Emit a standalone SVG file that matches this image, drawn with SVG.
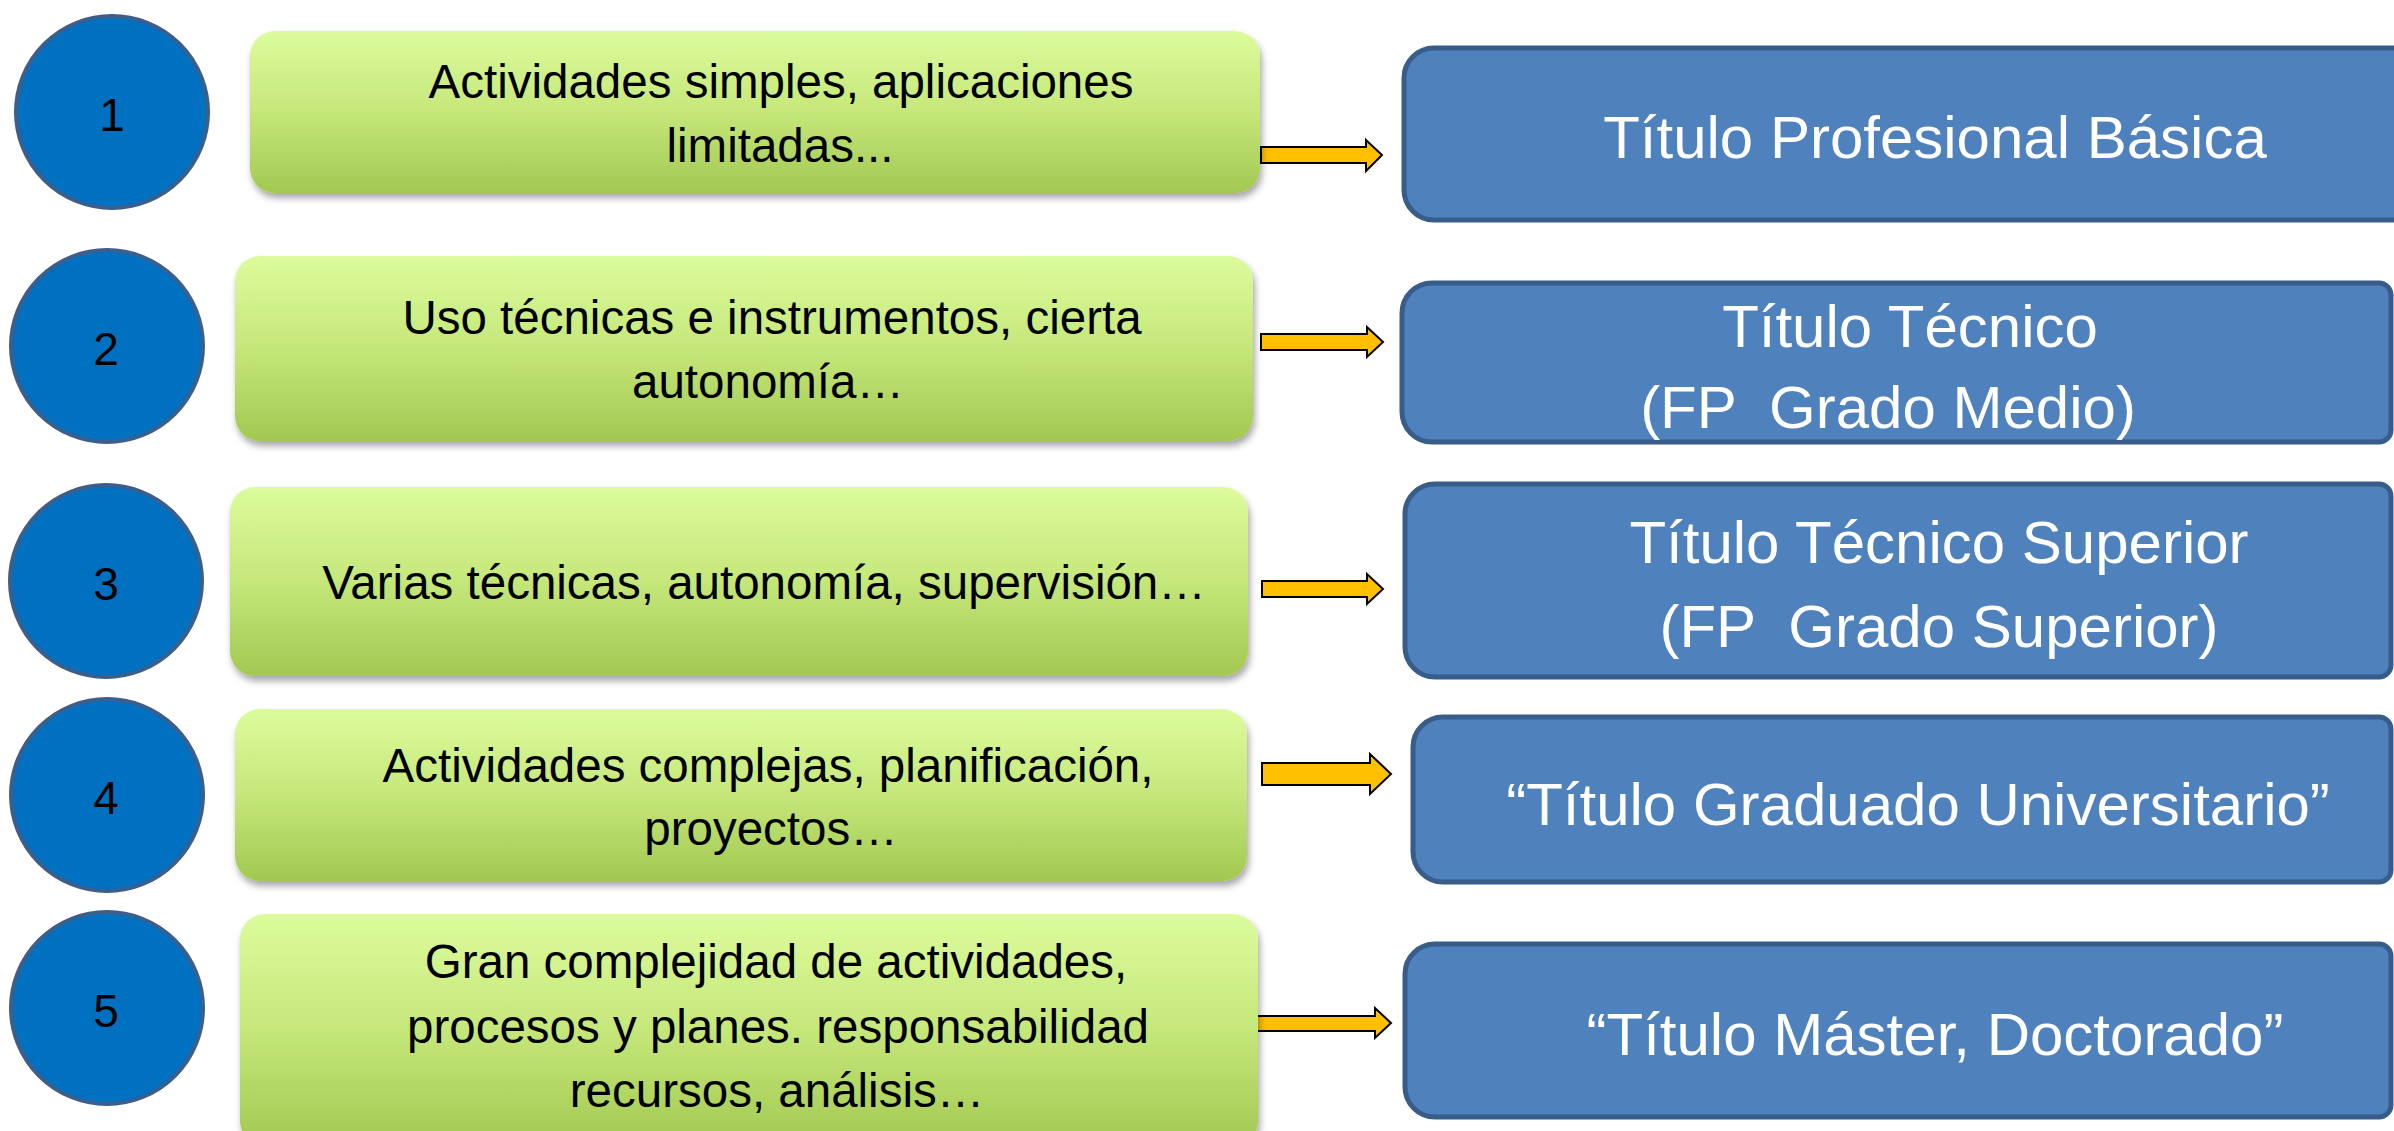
<svg xmlns="http://www.w3.org/2000/svg" width="2394" height="1131" viewBox="0 0 2394 1131">
<style>
.circ{fill:#0070C0;stroke:#3B5E8C;stroke-width:4}
.num{font-family:"Liberation Sans",Arial,sans-serif;font-size:46px;fill:#000;text-anchor:middle}
.gbox{fill:url(#gg);filter:url(#sh)}
.gtxt{font-family:"Liberation Sans",Arial,sans-serif;font-size:47.5px;fill:#000;text-anchor:middle}
.bbox{fill:#4F81BD;stroke:#385D8A;stroke-width:5}
.btxt{font-family:"Liberation Sans",Arial,sans-serif;font-size:60px;fill:#fff;text-anchor:middle;white-space:pre}
.arr{fill:#FFC000;stroke:#000;stroke-width:2;stroke-linejoin:miter}
</style>
<defs>
<linearGradient id="gg" x1="0" y1="0" x2="0" y2="1">
<stop offset="0" stop-color="#DCFC9C"/>
<stop offset="0.5" stop-color="#C5E77A"/>
<stop offset="1" stop-color="#A2C851"/>
</linearGradient>
<filter id="sh" x="-5%" y="-10%" width="110%" height="125%">
<feDropShadow dx="2" dy="5" stdDeviation="3.5" flood-color="#000" flood-opacity="0.35"/>
</filter>
</defs>
<rect width="2394" height="1131" fill="#fff"/>

<g id="connectors">
<path class="arr" d="M1261,147 H1366 V140 L1382,155 L1366,171 V163 H1261 Z"/>
<path class="arr" d="M1261,334 H1367 V327 L1383,342 L1367,357 V350 H1261 Z"/>
<path class="arr" d="M1262,581 H1367 V574 L1383,589 L1367,604 V597 H1262 Z"/>
<path class="arr" d="M1262,763 H1370 V754 L1391,774 L1370,794 V785 H1262 Z"/>
<path class="arr" d="M1249,1016 H1375 V1008 L1391,1023 L1375,1038 V1031 H1249 Z"/>
</g>

<g id="level1">
<circle class="circ" cx="112" cy="112" r="96"/>
<text class="num" x="112" y="131">1</text>
</g>
<g id="level2">
<circle class="circ" cx="107" cy="346" r="96"/>
<text class="num" x="106" y="365">2</text>
</g>
<g id="level3">
<circle class="circ" cx="106" cy="581" r="96"/>
<text class="num" x="106" y="600">3</text>
</g>
<g id="level4">
<circle class="circ" cx="107" cy="795" r="96"/>
<text class="num" x="106" y="814">4</text>
</g>
<g id="level5">
<circle class="circ" cx="107" cy="1008" r="96"/>
<text class="num" x="106" y="1027">5</text>
</g>

<g id="desc1">
<rect class="gbox" x="250" y="31" width="1010" height="162" rx="25"/>
<text class="gtxt" x="781" y="98">Actividades simples, aplicaciones</text>
<text class="gtxt" x="780" y="162">limitadas...</text>
</g>
<g id="desc2">
<rect class="gbox" x="235" y="256" width="1018" height="185" rx="25"/>
<text class="gtxt" x="772" y="334">Uso técnicas e instrumentos, cierta</text>
<text class="gtxt" x="768" y="398">autonomía…</text>
</g>
<g id="desc3">
<rect class="gbox" x="230" y="487" width="1018" height="189" rx="25"/>
<text class="gtxt" x="764" y="599">Varias técnicas, autonomía, supervisión…</text>
</g>
<g id="desc4">
<rect class="gbox" x="235" y="709" width="1012" height="172" rx="25"/>
<text class="gtxt" x="768" y="782">Actividades complejas, planificación,</text>
<text class="gtxt" x="771" y="845">proyectos…</text>
</g>
<g id="desc5">
<rect class="gbox" x="240" y="914" width="1018" height="232" rx="25"/>
<text class="gtxt" x="776" y="978">Gran complejidad de actividades,</text>
<text class="gtxt" x="778" y="1043">procesos y planes. responsabilidad</text>
<text class="gtxt" x="777" y="1107">recursos, análisis…</text>
</g>

<g id="title1">
<path class="bbox" d="M1434,48 H2393 A12,12 0 0 1 2405,60 V208 A12,12 0 0 1 2393,220 H1434 A30,30 0 0 1 1404,190 V78 A30,30 0 0 1 1434,48 Z"/>
<text class="btxt" x="1935" y="158">Título Profesional Básica</text>
</g>
<g id="title2">
<path class="bbox" d="M1432,283 H2379 A12,12 0 0 1 2391,295 V430 A12,12 0 0 1 2379,442 H1432 A30,30 0 0 1 1402,412 V313 A30,30 0 0 1 1432,283 Z"/>
<text class="btxt" x="1910" y="347">Título Técnico</text>
<text class="btxt" x="1888" y="428">(FP  Grado Medio)</text>
</g>
<g id="title3">
<path class="bbox" d="M1435,484 H2379 A12,12 0 0 1 2391,496 V665 A12,12 0 0 1 2379,677 H1435 A30,30 0 0 1 1405,647 V514 A30,30 0 0 1 1435,484 Z"/>
<text class="btxt" x="1939" y="563">Título Técnico Superior</text>
<text class="btxt" x="1939" y="647">(FP  Grado Superior)</text>
</g>
<g id="title4">
<path class="bbox" d="M1443,717 H2379 A12,12 0 0 1 2391,729 V870 A12,12 0 0 1 2379,882 H1443 A30,30 0 0 1 1413,852 V747 A30,30 0 0 1 1443,717 Z"/>
<text class="btxt" x="1918" y="825">“Título Graduado Universitario”</text>
</g>
<g id="title5">
<path class="bbox" d="M1435,944 H2379 A12,12 0 0 1 2391,956 V1105 A12,12 0 0 1 2379,1117 H1435 A30,30 0 0 1 1405,1087 V974 A30,30 0 0 1 1435,944 Z"/>
<text class="btxt" x="1935" y="1055">“Título Máster, Doctorado”</text>
</g>
</svg>
